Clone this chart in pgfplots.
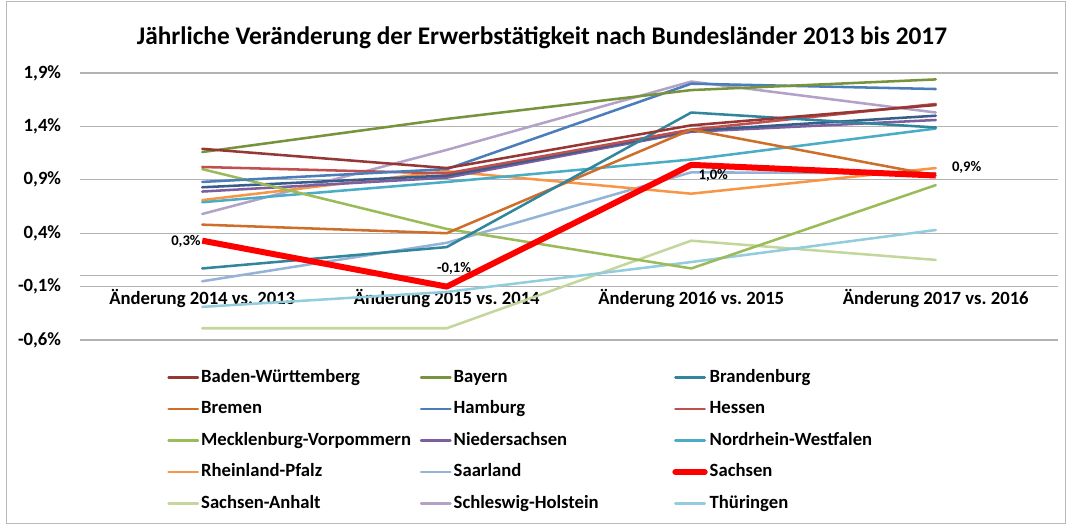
\documentclass[border=0pt]{standalone}
\usepackage{pgfplots}
\pgfplotsset{compat=1.18}
\usepackage{fontspec}
\setmainfont{Carlito}
\frenchspacing
\definecolor{cBW}{HTML}{953735}
\definecolor{cBY}{HTML}{77933C}
\definecolor{cBB}{HTML}{31859C}
\definecolor{cHB}{HTML}{CD6F2A}
\definecolor{cHH}{HTML}{4A7EBB}
\definecolor{cHE}{HTML}{C0504D}
\definecolor{cMV}{HTML}{9BBB59}
\definecolor{cNI}{HTML}{7D5FA0}
\definecolor{cNW}{HTML}{4BACC6}
\definecolor{cRP}{HTML}{F79646}
\definecolor{cSL}{HTML}{95B3D7}
\definecolor{cSN}{HTML}{FF0000}
\definecolor{cST}{HTML}{C3D69B}
\definecolor{cSH}{HTML}{B3A2C7}
\definecolor{cTH}{HTML}{93CDDD}
\definecolor{cXX}{HTML}{385D8A}
\pgfplotsset{
  ln/.style={line width=1.9pt, line join=round, line cap=round},
}
\newcommand{\lt}[1]{\makebox[162.5pt][l]{#1}}
\begin{document}
\begin{tikzpicture}
\useasboundingbox (-60pt,-138.75pt) rectangle (740.25pt,255pt);
\draw[gray!55, line width=0.8pt] (-55pt,-137.5pt) rectangle (739pt,254pt);
\begin{axis}[
  at={(0pt,0pt)}, anchor=south west,
  scale only axis, width=733.5pt, height=200.25pt,
  xmin=-0.5, xmax=3.5, ymin=-0.6, ymax=1.9,
  axis line style={draw=none},
  major tick length=0pt,
  ytick={-0.6,-0.1,0.4,0.9,1.4,1.9},
  yticklabels={{-0,6\%},{-0,1\%},{0,4\%},{0,9\%},{1,4\%},{1,9\%}},
  extra y ticks={0}, extra y tick labels={},
  extra y tick style={grid=major},
  ymajorgrids,
  grid style={gray!60, line width=0.8pt},
  xtick={0,1,2,3},
  xticklabels={{Änderung 2014 vs. 2013}, {Änderung 2015 vs. 2014}, {Änderung 2016 vs. 2015}, {Änderung 2017 vs. 2016}},
  xticklabel style={anchor=center, yshift=31.5pt, font=\fontsize{14}{16}\selectfont\bfseries},
  yticklabel style={anchor=east, inner sep=0pt, xshift=-14pt, font=\fontsize{14}{16}\selectfont\bfseries},
  legend columns=3,
  legend cell align=left,
  legend style={draw=none, fill=none, at={(0.089,-0.1)}, anchor=north west,
    font=\fontsize{14}{16}\selectfont\bfseries, inner sep=0pt,
    nodes={inner sep=1.5pt, text height=10pt, text depth=3pt},
    row sep=7.6pt, column sep=0pt},
  legend image code/.code={\draw[#1] (0pt,0pt) -- (22pt,0pt);},
]
% legend in reference order
\addlegendimage{ln, cBW}\addlegendentry{\lt{Baden-Württemberg}}
\addlegendimage{ln, cBY}\addlegendentry{\lt{Bayern}}
\addlegendimage{ln, cBB}\addlegendentry{\lt{Brandenburg}}
\addlegendimage{ln, cHB}\addlegendentry{\lt{Bremen}}
\addlegendimage{ln, cHH}\addlegendentry{\lt{Hamburg}}
\addlegendimage{ln, cHE}\addlegendentry{\lt{Hessen}}
\addlegendimage{ln, cMV}\addlegendentry{\lt{Mecklenburg-Vorpommern}}
\addlegendimage{ln, cNI}\addlegendentry{\lt{Niedersachsen}}
\addlegendimage{ln, cNW}\addlegendentry{\lt{Nordrhein-Westfalen}}
\addlegendimage{ln, cRP}\addlegendentry{\lt{Rheinland-Pfalz}}
\addlegendimage{ln, cSL}\addlegendentry{\lt{Saarland}}
\addlegendimage{line width=4.5pt, line cap=round, cSN}\addlegendentry{\lt{Sachsen}}
\addlegendimage{ln, cST}\addlegendentry{\lt{Sachsen-Anhalt}}
\addlegendimage{ln, cSH}\addlegendentry{\lt{Schleswig-Holstein}}
\addlegendimage{ln, cTH}\addlegendentry{\lt{Thüringen}}
% series
\addplot[ln, cST, forget plot] coordinates {(0,-0.49) (1,-0.49) (2,0.33) (3,0.15)};
\addplot[ln, cTH, forget plot] coordinates {(0,-0.29) (1,-0.15) (2,0.13) (3,0.43)};
\addplot[ln, cSH, forget plot] coordinates {(0,0.58) (1,1.18) (2,1.82) (3,1.53)};
\addplot[ln, cSL, forget plot] coordinates {(0,-0.05) (1,0.31) (2,0.97) (3,0.96)};
\addplot[ln, cRP, forget plot] coordinates {(0,0.71) (1,0.98) (2,0.77) (3,1.01)};
\addplot[ln, cNW, forget plot] coordinates {(0,0.69) (1,0.88) (2,1.09) (3,1.38)};
\addplot[ln, cNI, forget plot] coordinates {(0,0.79) (1,0.92) (2,1.35) (3,1.46)};
\addplot[ln, cXX, forget plot] coordinates {(0,0.83) (1,0.94) (2,1.36) (3,1.50)};
\addplot[ln, cMV, forget plot] coordinates {(0,1.00) (1,0.44) (2,0.07) (3,0.85)};
\addplot[ln, cHE, forget plot] coordinates {(0,1.02) (1,0.96) (2,1.37) (3,1.61)};
\addplot[ln, cHH, forget plot] coordinates {(0,0.88) (1,1.00) (2,1.80) (3,1.75)};
\addplot[ln, cHB, forget plot] coordinates {(0,0.48) (1,0.40) (2,1.37) (3,0.94)};
\addplot[ln, cBB, forget plot] coordinates {(0,0.07) (1,0.27) (2,1.53) (3,1.39)};
\addplot[ln, cBY, forget plot] coordinates {(0,1.16) (1,1.47) (2,1.74) (3,1.84)};
\addplot[ln, cBW, forget plot] coordinates {(0,1.19) (1,1.01) (2,1.41) (3,1.60)};
\addplot[line width=4.5pt, line join=round, cSN, forget plot] coordinates {(0,0.33) (1,-0.10) (2,1.04) (3,0.94)};
\node[anchor=east, inner sep=1pt, font=\fontsize{11}{13}\selectfont\bfseries] at (axis cs:0,0.32) {0,3\%};
\node[anchor=south, inner sep=1pt, font=\fontsize{11}{13}\selectfont\bfseries] at (axis cs:1.03,0.0) {-0,1\%};
\node[anchor=north, inner sep=1pt, font=\fontsize{11}{13}\selectfont\bfseries] at (axis cs:2.09,1.01) {1,0\%};
\node[anchor=west, inner sep=1pt, font=\fontsize{11}{13}\selectfont\bfseries] at (axis cs:3.06,1.02) {0,9\%};
\end{axis}
\node[font=\fontsize{19}{22}\selectfont\bfseries] at (346.5pt,226.5pt) {Jährliche Veränderung der Erwerbstätigkeit nach Bundesländer 2013 bis 2017};
\end{tikzpicture}
\end{document}
